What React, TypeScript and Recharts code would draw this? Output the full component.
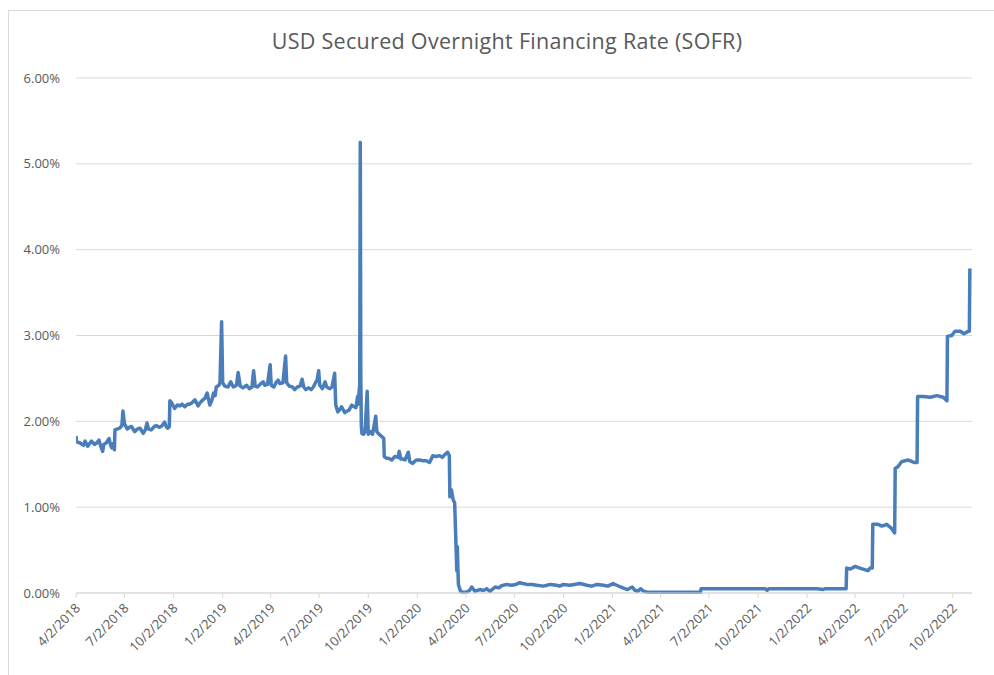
import React from "react";
import { LineChart, Line, XAxis, YAxis, CartesianGrid } from "recharts";

const FONT = "'Open Sans', 'Liberation Sans', sans-serif";
const TEXT = "#595959";
const GRID = "#d9d9d9";
const LINE = "#4a7ebb";

const chartTitle = "USD Secured Overnight Financing Rate (SOFR)";

const xTickDates = [
  "2018-04-02", "2018-07-02", "2018-10-02", "2019-01-02", "2019-04-02",
  "2019-07-02", "2019-10-02", "2020-01-02", "2020-04-02", "2020-07-02",
  "2020-10-02", "2021-01-02", "2021-04-02", "2021-07-02", "2021-10-02",
  "2022-01-02", "2022-04-02", "2022-07-02", "2022-10-02",
];
const xDomain = ["2018-04-02", "2022-11-07"];
const yTicks = [0, 1, 2, 3, 4, 5, 6];

const sofr2018: [string, number][] = [
  ["2018-04-02", 1.83], ["2018-04-03", 1.76], ["2018-04-09", 1.75], ["2018-04-16", 1.72],
  ["2018-04-19", 1.77], ["2018-04-24", 1.71], ["2018-05-01", 1.77], ["2018-05-07", 1.73],
  ["2018-05-11", 1.75], ["2018-05-15", 1.78], ["2018-05-18", 1.72], ["2018-05-22", 1.65],
  ["2018-05-24", 1.73], ["2018-05-29", 1.75], ["2018-06-03", 1.8], ["2018-06-06", 1.72],
  ["2018-06-08", 1.69], ["2018-06-11", 1.74], ["2018-06-13", 1.67], ["2018-06-14", 1.9],
  ["2018-06-18", 1.91], ["2018-06-23", 1.92], ["2018-06-27", 1.95], ["2018-06-29", 2.12],
  ["2018-07-02", 1.97], ["2018-07-07", 1.91], ["2018-07-11", 1.93], ["2018-07-15", 1.94],
  ["2018-07-21", 1.88], ["2018-07-26", 1.91], ["2018-07-31", 1.92], ["2018-08-06", 1.86],
  ["2018-08-10", 1.9], ["2018-08-13", 1.98], ["2018-08-16", 1.91], ["2018-08-21", 1.9],
  ["2018-08-27", 1.94], ["2018-08-31", 1.95], ["2018-09-05", 1.93], ["2018-09-09", 1.94],
  ["2018-09-15", 1.99], ["2018-09-18", 1.94], ["2018-09-21", 1.92], ["2018-09-24", 1.94],
  ["2018-09-25", 2.24], ["2018-09-28", 2.22], ["2018-10-04", 2.15], ["2018-10-09", 2.19],
  ["2018-10-14", 2.18], ["2018-10-18", 2.2], ["2018-10-23", 2.17], ["2018-10-28", 2.2],
  ["2018-11-01", 2.2], ["2018-11-06", 2.22], ["2018-11-11", 2.25], ["2018-11-17", 2.18],
  ["2018-11-21", 2.22], ["2018-11-26", 2.25], ["2018-11-30", 2.27], ["2018-12-04", 2.33],
  ["2018-12-09", 2.19], ["2018-12-13", 2.25], ["2018-12-16", 2.33], ["2018-12-19", 2.3],
  ["2018-12-21", 2.4], ["2018-12-26", 2.42], ["2018-12-28", 2.45], ["2018-12-31", 3.16],
];

const sofr2019: [string, number][] = [
  ["2019-01-02", 2.45], ["2019-01-06", 2.41], ["2019-01-12", 2.4], ["2019-01-17", 2.46],
  ["2019-01-22", 2.4], ["2019-01-28", 2.42], ["2019-01-31", 2.57], ["2019-02-04", 2.41],
  ["2019-02-09", 2.39], ["2019-02-16", 2.42], ["2019-02-21", 2.38], ["2019-02-26", 2.4],
  ["2019-03-01", 2.59], ["2019-03-04", 2.41], ["2019-03-08", 2.4], ["2019-03-13", 2.43],
  ["2019-03-19", 2.46], ["2019-03-22", 2.42], ["2019-03-27", 2.43], ["2019-04-01", 2.66],
  ["2019-04-03", 2.42], ["2019-04-08", 2.4], ["2019-04-12", 2.45], ["2019-04-16", 2.48],
  ["2019-04-19", 2.44], ["2019-04-25", 2.45], ["2019-04-30", 2.76], ["2019-05-02", 2.45],
  ["2019-05-07", 2.41], ["2019-05-13", 2.4], ["2019-05-17", 2.37], ["2019-05-22", 2.4],
  ["2019-05-27", 2.41], ["2019-05-31", 2.49], ["2019-06-03", 2.4], ["2019-06-07", 2.37],
  ["2019-06-12", 2.39], ["2019-06-17", 2.37], ["2019-06-21", 2.4], ["2019-06-25", 2.45],
  ["2019-06-28", 2.48], ["2019-07-01", 2.59], ["2019-07-03", 2.42], ["2019-07-08", 2.38],
  ["2019-07-13", 2.46], ["2019-07-16", 2.4], ["2019-07-22", 2.38], ["2019-07-26", 2.4],
  ["2019-07-31", 2.56], ["2019-08-02", 2.19], ["2019-08-06", 2.11], ["2019-08-09", 2.13],
  ["2019-08-13", 2.17], ["2019-08-19", 2.1], ["2019-08-23", 2.12], ["2019-08-27", 2.13],
  ["2019-09-01", 2.19], ["2019-09-05", 2.17], ["2019-09-09", 2.16], ["2019-09-12", 2.29],
  ["2019-09-13", 2.2], ["2019-09-16", 2.43], ["2019-09-17", 5.25], ["2019-09-18", 2.55],
  ["2019-09-19", 1.95], ["2019-09-20", 1.86], ["2019-09-23", 1.85], ["2019-09-26", 1.88],
  ["2019-09-30", 2.35], ["2019-10-02", 1.85], ["2019-10-07", 1.88], ["2019-10-10", 1.85],
  ["2019-10-16", 2.06], ["2019-10-18", 1.88], ["2019-10-22", 1.85], ["2019-10-28", 1.82],
  ["2019-10-31", 1.8], ["2019-11-01", 1.59], ["2019-11-05", 1.57], ["2019-11-09", 1.57],
  ["2019-11-15", 1.55], ["2019-11-21", 1.59], ["2019-11-27", 1.58], ["2019-11-29", 1.65],
  ["2019-12-02", 1.56], ["2019-12-06", 1.56], ["2019-12-10", 1.55], ["2019-12-16", 1.64],
  ["2019-12-19", 1.53], ["2019-12-24", 1.51], ["2019-12-31", 1.55],
];

const sofr2020: [string, number][] = [
  ["2020-01-07", 1.55], ["2020-01-13", 1.54], ["2020-01-19", 1.54], ["2020-01-25", 1.52],
  ["2020-01-31", 1.6], ["2020-02-06", 1.59], ["2020-02-13", 1.6], ["2020-02-18", 1.58],
  ["2020-02-22", 1.61], ["2020-02-28", 1.64], ["2020-03-02", 1.6], ["2020-03-03", 1.12],
  ["2020-03-06", 1.2], ["2020-03-09", 1.09], ["2020-03-12", 1.05], ["2020-03-16", 0.26],
  ["2020-03-17", 0.54], ["2020-03-18", 0.3], ["2020-03-19", 0.1], ["2020-03-23", 0.02],
  ["2020-03-27", 0.01], ["2020-04-03", 0.01], ["2020-04-09", 0.03], ["2020-04-13", 0.07],
  ["2020-04-19", 0.02], ["2020-04-28", 0.04], ["2020-05-05", 0.03], ["2020-05-11", 0.05],
  ["2020-05-17", 0.02], ["2020-05-27", 0.07], ["2020-06-03", 0.06], ["2020-06-08", 0.085],
  ["2020-06-17", 0.1], ["2020-06-27", 0.09], ["2020-07-05", 0.1], ["2020-07-12", 0.12],
  ["2020-07-18", 0.11], ["2020-07-25", 0.1], ["2020-08-04", 0.1], ["2020-08-13", 0.09],
  ["2020-08-25", 0.08], ["2020-09-01", 0.09], ["2020-09-07", 0.1], ["2020-09-19", 0.09],
  ["2020-09-25", 0.08], ["2020-10-02", 0.1], ["2020-10-14", 0.09], ["2020-10-22", 0.1],
  ["2020-11-02", 0.11], ["2020-11-15", 0.09], ["2020-11-24", 0.08], ["2020-12-04", 0.1],
  ["2020-12-16", 0.09], ["2020-12-24", 0.08],
];

const sofr2021: [string, number][] = [
  ["2021-01-03", 0.11], ["2021-01-10", 0.09], ["2021-01-17", 0.07], ["2021-01-25", 0.05],
  ["2021-01-30", 0.04], ["2021-02-08", 0.07], ["2021-02-13", 0.03], ["2021-02-18", 0.02],
  ["2021-02-24", 0.05], ["2021-03-01", 0.02], ["2021-03-08", 0.01], ["2021-04-15", 0.01],
  ["2021-05-20", 0.01], ["2021-06-16", 0.01], ["2021-06-17", 0.05], ["2021-08-10", 0.05],
  ["2021-09-01", 0.05], ["2021-10-15", 0.05], ["2021-10-19", 0.03], ["2021-10-22", 0.05],
  ["2021-12-20", 0.05], ["2021-12-31", 0.05],
];

const sofr2022: [string, number][] = [
  ["2022-01-20", 0.05], ["2022-02-01", 0.04], ["2022-02-04", 0.05], ["2022-03-16", 0.05],
  ["2022-03-17", 0.29], ["2022-03-24", 0.28], ["2022-04-02", 0.31], ["2022-04-11", 0.29],
  ["2022-04-21", 0.27], ["2022-04-26", 0.26], ["2022-04-30", 0.29], ["2022-05-04", 0.29],
  ["2022-05-05", 0.8], ["2022-05-15", 0.8], ["2022-05-22", 0.78], ["2022-05-31", 0.8],
  ["2022-06-08", 0.76], ["2022-06-15", 0.7], ["2022-06-16", 1.45], ["2022-06-21", 1.47],
  ["2022-06-28", 1.53], ["2022-07-10", 1.55], ["2022-07-22", 1.52], ["2022-07-27", 1.52],
  ["2022-07-28", 2.29], ["2022-08-08", 2.29], ["2022-08-21", 2.28], ["2022-09-02", 2.3],
  ["2022-09-14", 2.28], ["2022-09-21", 2.24], ["2022-09-22", 2.99], ["2022-09-30", 3.0],
  ["2022-10-06", 3.05], ["2022-10-16", 3.05], ["2022-10-23", 3.02], ["2022-10-31", 3.05],
  ["2022-11-02", 3.05], ["2022-11-03", 3.78],
];

const toTs = (s: string) => {
  const [y, m, d] = s.split("-").map(Number);
  return Date.UTC(y, m - 1, d);
};

const fmtDate = (t: number) => {
  const dt = new Date(t);
  return `${dt.getUTCMonth() + 1}/${dt.getUTCDate()}/${dt.getUTCFullYear()}`;
};

const data = [...sofr2018, ...sofr2019, ...sofr2020, ...sofr2021, ...sofr2022].map(
  ([d, v]) => ({ t: toTs(d), v })
);

const XTick = (props: any) => {
  const { x, y, payload } = props;
  const ax = x + 5;
  const ay = y + 9;
  return (
    <text
      x={ax}
      y={ay}
      transform={`rotate(-45 ${ax} ${ay})`}
      textAnchor="end"
      fill={TEXT}
      fontSize={13}
      fontFamily={FONT}
    >
      {fmtDate(payload.value)}
    </text>
  );
};

export default function App() {
  return (
    <div
      style={{
        position: "fixed",
        left: 0,
        top: 0,
        width: 994,
        height: 675,
        overflow: "hidden",
        background: "#ffffff",
      }}
    >
      <div
        style={{
          position: "absolute",
          left: 8,
          top: 10,
          width: 1000,
          height: 700,
          border: `1px solid ${GRID}`,
          boxSizing: "border-box",
        }}
      />
      <div
        style={{
          position: "absolute",
          left: 0,
          top: 26,
          width: 1014,
          textAlign: "center",
          fontFamily: FONT,
          fontSize: 21.5,
          letterSpacing: 0.3,
          color: TEXT,
          whiteSpace: "nowrap",
        }}
      >
        {chartTitle}
      </div>
      <div style={{ position: "absolute", left: 0, top: 0 }}>
        <LineChart
          width={994}
          height={675}
          data={data}
          margin={{ top: 78, right: 22, bottom: 22, left: 0 }}
        >
          <CartesianGrid horizontal vertical={false} stroke={GRID} strokeWidth={1} />
          <XAxis
            dataKey="t"
            type="number"
            scale="linear"
            domain={[toTs(xDomain[0]), toTs(xDomain[1])]}
            ticks={xTickDates.map(toTs)}
            interval={0}
            height={60}
            stroke={GRID}
            tickSize={5}
            tickMargin={2}
            tick={<XTick />}
            allowDataOverflow
          />
          <YAxis
            type="number"
            domain={[0, 6]}
            ticks={yTicks}
            width={76}
            axisLine={false}
            tickLine={false}
            tickSize={0}
            tickMargin={16}
            tick={{ fill: TEXT, fontSize: 13, fontFamily: FONT }}
            tickFormatter={(v: number) => `${v.toFixed(2)}%`}
          />
          <Line
            type="linear"
            dataKey="v"
            stroke={LINE}
            strokeWidth={3.5}
            dot={false}
            strokeLinejoin="round"
            isAnimationActive={false}
          />
        </LineChart>
      </div>
    </div>
  );
}
